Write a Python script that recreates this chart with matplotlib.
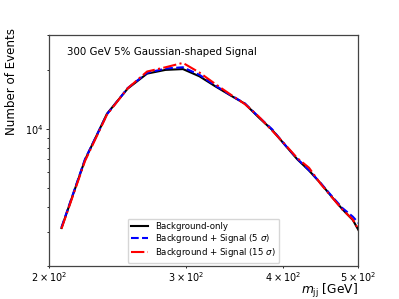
import numpy as np
import matplotlib
matplotlib.use("Agg")
import matplotlib.pyplot as plt

# bin centres [GeV] and event counts
mjj = [207.5, 222.5, 237.5, 252.5, 267.5, 282.5, 297.5, 312.5, 327.5, 342.5, 357.5,
       372.5, 387.5, 402.5, 417.5, 432.5, 447.5, 462.5, 477.5, 492.5, 507.5]
bkg = [3126, 6950, 11930, 16000, 19080, 19930, 20120, 18480, 16440, 14790, 13415,
       11420, 9883, 8286, 7006, 6128, 5284, 4514, 3894, 3434, 2780]
sig5 = [3150, 7000, 11850, 16100, 19250, 20250, 20550, 18800, 16600, 14850, 13450,
        11500, 9950, 8300, 7050, 6150, 5300, 4550, 3950, 3570, 3130]
sig15 = [3100, 6850, 11800, 16050, 19550, 20550, 21630, 19310, 16900, 14950, 13350,
         11550, 9800, 8350, 7100, 6330, 5250, 4500, 3880, 3450, 2800]

fig = plt.figure(figsize=(3.99, 2.99), dpi=100)
ax = fig.add_axes([0.123, 0.110, 0.774, 0.773])

ax.plot(mjj, bkg, color='black', lw=1.5, label='Background-only')
ax.plot(mjj, sig5, color='blue', lw=1.5, ls='--', label=r'Background + Signal (5 $\sigma$)')
ax.plot(mjj, sig15, color='red', lw=1.5, ls='-.', label=r'Background + Signal (15 $\sigma$)')

ax.set_xscale('log')
ax.set_yscale('log')
ax.set_xlim(200, 500)
ax.set_ylim(2000, 30000)
ax.tick_params(which='both', labelsize=7, pad=1.5, width=0.6)
ax.tick_params(which='major', length=2.2)
ax.tick_params(which='minor', length=1.3)
for sp in ax.spines.values():
    sp.set_linewidth(0.9)
    sp.set_color('#444444')

ax.text(0.058, 0.948, '300 GeV 5% Gaussian-shaped Signal', transform=ax.transAxes,
        fontsize=7.4, va='top', ha='left')
ax.set_ylabel('Number of Events', fontsize=8.6, loc='top')
ax.yaxis.set_label_coords(-0.10, 1.03)
ax.set_xlabel(r'$m_{\rm jj}$ [GeV]', fontsize=8.8, loc='right')
ax.xaxis.set_label_coords(1.0, -0.07)
ax.legend(loc='lower center', fontsize=6.2, borderaxespad=0.4, handlelength=2.0,
          labelspacing=0.12)

fig.savefig('out.png', dpi=100)
